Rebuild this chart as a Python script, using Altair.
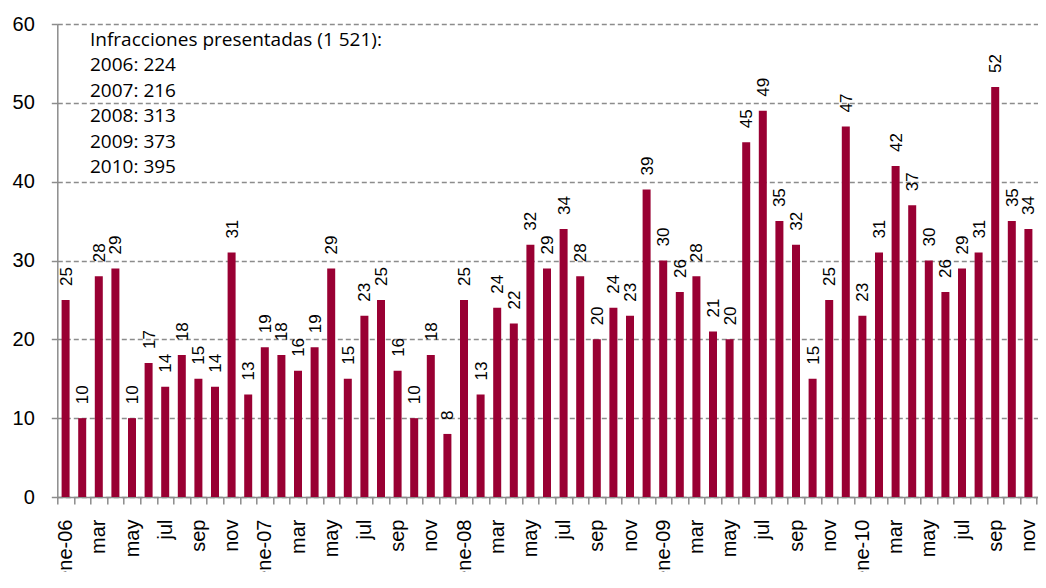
import altair as alt
import pandas as pd

month_names = ["ene", "feb", "mar", "abr", "may", "jun", "jul", "ago", "sep", "oct", "nov", "dic"]
years = ["06", "07", "08", "09", "10"]

values_2006 = [25, 10, 28, 29, 10, 17, 14, 18, 15, 14, 31, 13]
values_2007 = [19, 18, 16, 19, 29, 15, 23, 25, 16, 10, 18, 8]
values_2008 = [25, 13, 24, 22, 32, 29, 34, 28, 20, 24, 23, 39]
values_2009 = [30, 26, 28, 21, 20, 45, 49, 35, 32, 15, 25, 47]
values_2010 = [23, 31, 42, 37, 30, 26, 29, 31, 52, 35, 34, 25]

annotation_lines = [
    "Infracciones presentadas (1 521):",
    "2006: 224",
    "2007: 216",
    "2008: 313",
    "2009: 373",
    "2010: 395",
]

all_values = values_2006 + values_2007 + values_2008 + values_2009 + values_2010
tick_labels = []
for yy in years:
    for m, name in enumerate(month_names):
        tick_labels.append(f"ene-{yy}" if m == 0 else name)

df = pd.DataFrame({"idx": list(range(len(all_values))), "value": all_values, "label": tick_labels})

bar_color = "#990033"
grid_color = "#8c8c8c"

STEP = 16.6
W = 980.7
H = 473
x_max = round(W / STEP - 0.5, 3)

axis_vals = []
for k in range(len(all_values)):
    axis_vals.append(k - 0.5)
    axis_vals.append(k)
axis_vals = [v for v in axis_vals if v <= x_max]

labels_js = "[" + ",".join(f"'{t}'" for t in tick_labels) + "]"
label_expr = f"(datum.value % 2 == 0) ? {labels_js}[datum.value] : ''"

x_enc = alt.X(
    "idx:Q",
    scale=alt.Scale(domain=[-0.5, x_max], nice=False, zero=False, padding=0),
    axis=alt.Axis(
        values=axis_vals,
        labelExpr=label_expr,
        labelAngle=270,
        labelFont="Liberation Sans",
        labelFontSize=20,
        labelColor="black",
        labelPadding=15,
        tickSize=7,
        tickColor=grid_color,
        tickWidth=1.5,
        tickOpacity={"condition": {"test": "datum.value % 1 != 0", "value": 1}, "value": 0},
        domainColor=grid_color,
        domainWidth=1.5,
        grid=False,
        title=None,
        labelOverlap=False,
        labelBound=False,
        labelFlush=False,
    ),
)

y_enc = alt.Y(
    "value:Q",
    scale=alt.Scale(domain=[0, 60], nice=False),
    axis=alt.Axis(
        values=[0, 10, 20, 30, 40, 50, 60],
        labelFont="Liberation Sans",
        labelFontSize=20,
        labelColor="black",
        labelPadding=17,
        tickSize=6,
        tickColor=grid_color,
        tickWidth=1.5,
        domainColor=grid_color,
        domainWidth=1.5,
        grid=True,
        gridColor=grid_color,
        gridDash=[5, 3],
        gridWidth=1.3,
        title=None,
    ),
)

base = alt.Chart(df).encode(x=x_enc, y=y_enc)

bars = base.mark_bar(size=8, color=bar_color)

labels = base.mark_text(
    angle=270,
    align="left",
    baseline="middle",
    dx=14,
    dy=1,
    font="Liberation Sans",
    fontSize=17,
    color="black",
).encode(text="value:Q")

ann_df = pd.DataFrame({"t": [annotation_lines]})
annotation = alt.Chart(ann_df).mark_text(
    align="left",
    baseline="alphabetic",
    font="Open Sans",
    fontSize=19,
    lineHeight=25.5,
    color="black",
).encode(x=alt.value(32.7), y=alt.value(21.7), text="t")

chart = (
    alt.layer(bars, labels, annotation)
    .properties(
        width=W,
        height=H,
        autosize=alt.AutoSizeParams(type="none"),
        padding={"left": 49.3, "top": 16, "right": 0, "bottom": 75},
    )
    .configure_view(stroke=None)
)

chart.save("out.html", embed_options={"renderer": "svg", "actions": False})
